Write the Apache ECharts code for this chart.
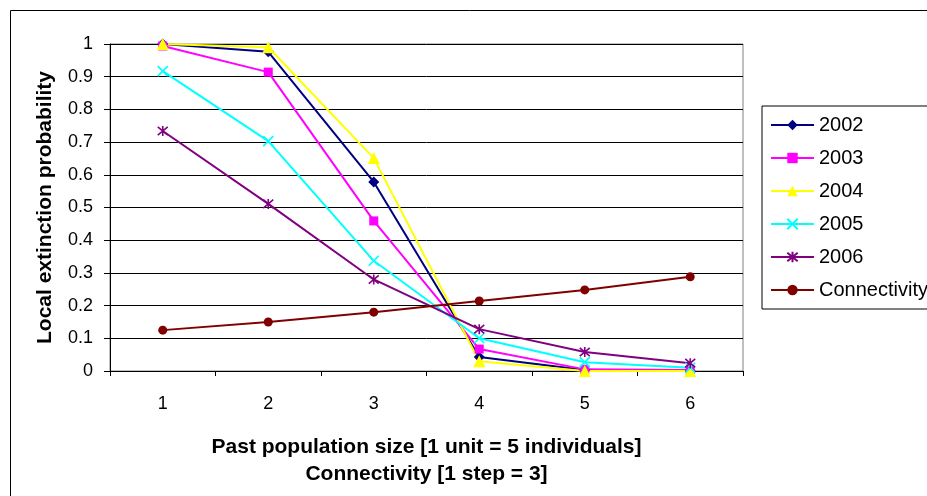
<!DOCTYPE html>
<html>
<head>
<meta charset="utf-8">
<script src="https://cdn.jsdelivr.net/npm/echarts@6/dist/echarts.min.js"></script>
<style>
html,body{margin:0;padding:0;background:#fff;}
#c{width:927px;height:496px;}
</style>
</head>
<body>
<div id="c"></div>
<script>
var categories = ['1', '2', '3', '4', '5', '6'];
var s2002 = [1.0, 0.976, 0.578, 0.043, 0.003, 0.0];
var s2003 = [0.994, 0.914, 0.459, 0.067, 0.005, 0.003];
var s2004 = [1.0, 0.99, 0.651, 0.03, 0.0, 0.0];
var s2005 = [0.917, 0.703, 0.337, 0.1, 0.027, 0.01];
var s2006 = [0.734, 0.511, 0.28, 0.128, 0.058, 0.024];
var sConn = [0.125, 0.15, 0.18, 0.214, 0.248, 0.288];
var yTicks = [0, 0.1, 0.2, 0.3, 0.4, 0.5, 0.6, 0.7, 0.8, 0.9, 1];

var FONT = 'Liberation Sans, Arial, sans-serif';
var crossPath = 'path://M0 0L10 10M10 0L0 10';
var starPath = 'path://M0 0L10 10M10 0L0 10M5 -1L5 11';

function mk(name, data, color, symbol, size, stroked) {
  return {
    name: name,
    type: 'line',
    data: data,
    symbol: symbol,
    symbolSize: size,
    showSymbol: true,
    animation: false,
    lineStyle: { color: color, width: 2 },
    itemStyle: stroked ? { color: color, borderColor: color, borderWidth: 1.6 } : { color: color, borderWidth: 0 },
    emphasis: { disabled: true }
  };
}

var chart = echarts.init(document.getElementById('c'), null, { renderer: 'canvas' });
chart.setOption({
  animation: false,
  backgroundColor: '#fff',
  textStyle: { fontFamily: FONT },
  graphic: [{
    type: 'rect',
    shape: { x: 10.5, y: 10.5, width: 1000, height: 1000 },
    style: { fill: 'none', stroke: '#000', lineWidth: 1 },
    silent: true,
    z: -10
  }],
  grid: { left: 110, top: 44, width: 633, height: 327, show: true, borderColor: '#808080', borderWidth: 1 },
  legend: {
    orient: 'vertical',
    left: 762,
    top: 106,
    padding: [9, 60, 9, 8],
    borderColor: '#000',
    borderWidth: 1,
    itemWidth: 43,
    itemHeight: 13,
    itemGap: 13,
    textStyle: { fontFamily: FONT, fontSize: 20, lineHeight: 20, color: '#000' },
    data: ['2002', '2003', '2004', '2005', '2006', 'Connectivity']
  },
  xAxis: {
    type: 'category',
    data: categories,
    boundaryGap: true,
    name: 'Past population size [1 unit = 5 individuals]\nConnectivity [1 step = 3]',
    nameLocation: 'middle',
    nameGap: 63,
    nameTextStyle: { fontFamily: FONT, fontSize: 21, fontWeight: 'bold', color: '#000', lineHeight: 27 },
    axisLine: { lineStyle: { color: '#000', width: 1 } },
    axisTick: { show: true, length: 5, lineStyle: { color: '#000' } },
    axisLabel: { fontFamily: FONT, fontSize: 18, color: '#000', margin: 24 },
    splitLine: { show: false }
  },
  yAxis: {
    type: 'value',
    min: 0,
    max: 1,
    interval: 0.1,
    name: 'Local extinction probability',
    nameLocation: 'middle',
    nameGap: 54,
    nameTextStyle: { fontFamily: FONT, fontSize: 21, fontWeight: 'bold', color: '#000' },
    axisLine: { show: true, lineStyle: { color: '#000', width: 1 } },
    axisTick: { show: true, length: 6, lineStyle: { color: '#000' } },
    axisLabel: {
      fontFamily: FONT, fontSize: 18, color: '#000', margin: 17,
      formatter: function (v) {
        var best = yTicks[0];
        for (var i = 0; i < yTicks.length; i++) { if (Math.abs(yTicks[i] - v) < Math.abs(best - v)) best = yTicks[i]; }
        return String(best);
      }
    },
    splitLine: { show: true, lineStyle: { color: '#000', width: 1 } }
  },
  series: [
    mk('2002', s2002, '#000080', 'diamond', 11, false),
    mk('2003', s2003, '#FF00FF', 'rect', 9, false),
    mk('2004', s2004, '#FFFF00', 'triangle', 12, false),
    mk('2005', s2005, '#00FFFF', crossPath, 10, true),
    mk('2006', s2006, '#800080', starPath, 10, true),
    mk('Connectivity', sConn, '#800000', 'circle', 9, false)
  ]
});
</script>
</body>
</html>
